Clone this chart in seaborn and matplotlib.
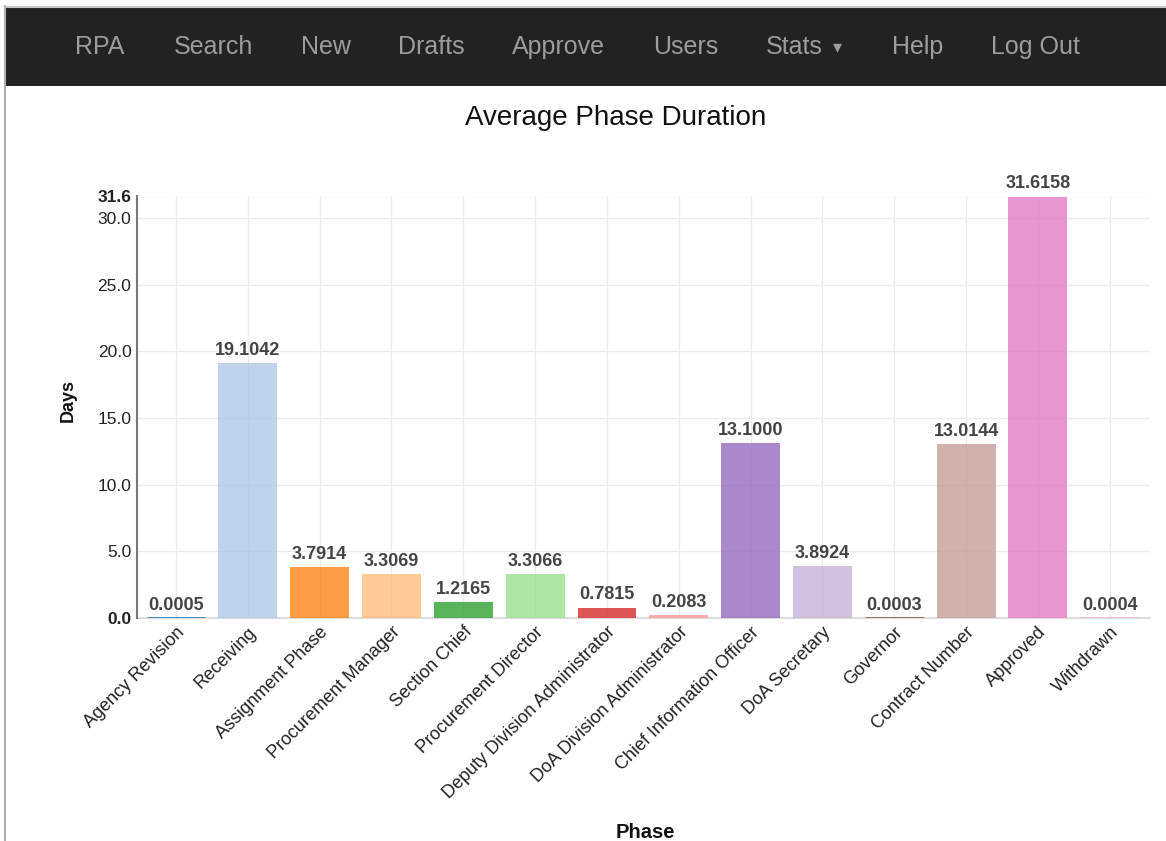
import matplotlib
matplotlib.use("Agg")
import matplotlib.pyplot as plt
import seaborn as sns
import pandas as pd
from matplotlib.patches import Rectangle
from matplotlib.lines import Line2D

phases = ["Agency Revision", "Receiving", "Assignment Phase", "Procurement Manager",
          "Section Chief", "Procurement Director", "Deputy Division Administrator",
          "DoA Division Administrator", "Chief Information Officer", "DoA Secretary",
          "Governor", "Contract Number", "Approved", "Withdrawn"]
days = [0.0005, 19.1042, 3.7914, 3.3069, 1.2165, 3.3066, 0.7815, 0.2083,
        13.1000, 3.8924, 0.0003, 13.0144, 31.6158, 0.0004]
colors = ["#1f77b4", "#aec7e8", "#ff7f0e", "#ffbb78", "#2ca02c", "#98df8a", "#d62728",
          "#ff9896", "#9467bd", "#c5b0d5", "#8c564b", "#c49c94", "#e377c2", "#f7b6d2"]
nav_items = ["RPA", "Search", "New", "Drafts", "Approve", "Users", "Stats", "Help", "Log Out"]
nav_x = [75, 174, 301, 398, 512, 653, 766, 892, 991]
yticks = [0.0, 5.0, 10.0, 15.0, 20.0, 25.0, 30.0]

sns.set_style("white")
plt.rcParams['font.family'] = ['Liberation Sans', 'DejaVu Sans']

W, H = 1166, 841
fig = plt.figure(figsize=(W / 100, H / 100), dpi=100)
fig.patch.set_facecolor("white")

# page frame and navbar
fig.add_artist(Rectangle((5 / W, 1 - 86 / H), 1 - 5 / W, 79 / H, transform=fig.transFigure,
                         facecolor="#222222", edgecolor="none"))
fig.add_artist(Line2D([5 / W, 1], [1 - 6.5 / H, 1 - 6.5 / H], transform=fig.transFigure,
                      color="#c8c8c8", lw=1.5))
fig.add_artist(Line2D([4.5 / W, 4.5 / W], [0, 1 - 6 / H], transform=fig.transFigure,
                      color="#b0b0b0", lw=1.5))
for name, x in zip(nav_items, nav_x):
    fig.text(x / W, 1 - 47 / H, name, color="#9d9d9d", fontsize=18, ha="left", va="center")
fig.text(833 / W, 1 - 47 / H, "\u25BE", color="#9d9d9d", fontsize=13, ha="left", va="center",
         family=["DejaVu Sans"])

ax = fig.add_axes([137 / W, 1 - 618 / H, (1150 - 137) / W, (618 - 196.5) / H])
df = pd.DataFrame({"Phase": phases, "Days": days})
sns.barplot(data=df, x="Phase", y="Days", hue="Phase", palette=colors, legend=False,
            width=0.82, saturation=1, ax=ax, dodge=False)
ymax = max(days)
for p in ax.patches:
    fc = p.get_facecolor()
    p.set_facecolor((fc[0], fc[1], fc[2], 0.78))
    if p.get_height() < ymax * 0.005:
        # very small values: show as a thin line like the reference
        p.set_edgecolor((fc[0], fc[1], fc[2], 0.85))
        p.set_linewidth(2.0)
    else:
        p.set_edgecolor("none")
        p.set_linewidth(0)

ax.set_ylim(0, ymax)
ax.set_xlim(-0.543, 13.56)
ticks = yticks + [ymax]
ax.set_yticks(ticks)
ax.set_yticklabels([f"{t:.1f}" for t in ticks], fontsize=12.5, color="#222222")
for lbl in ax.get_yticklabels():
    if lbl.get_text() in ("0.0", "31.6"):
        lbl.set_fontweight("bold")
ax.set_xticks(range(len(phases)))
ax.set_xticklabels(phases, rotation=45, ha="right", rotation_mode="anchor",
                   fontsize=13, color="#222222")
ax.tick_params(axis="both", length=0, pad=4)
ax.grid(True, color="#ebebeb", lw=1)
ax.set_axisbelow(True)
for s in ["top", "right"]:
    ax.spines[s].set_visible(False)
ax.spines["left"].set_color("#777777")
ax.spines["left"].set_linewidth(1.5)
ax.spines["bottom"].set_color("#dddddd")
ax.spines["bottom"].set_linewidth(1.5)
ax.spines["bottom"].set_zorder(0.6)

for i, v in enumerate(days):
    ax.annotate(f"{v:.4f}", (i, v), xytext=(0, 3), textcoords="offset points",
                ha="center", va="bottom", fontsize=13, fontweight="bold", color="#444444")

ax.set_xlabel("")
ax.set_ylabel("")
fig.text(616 / W, 1 - 118 / H, "Average Phase Duration", fontsize=20, ha="center",
         va="center", color="#111111")
fig.text(68 / W, 1 - 400 / H, "Days", fontsize=13, fontweight="bold", rotation=90,
         ha="center", va="center", color="#111111")
fig.text(645 / W, 1 - 833 / H, "Phase", fontsize=14.5, fontweight="bold", ha="center",
         va="center", color="#111111")

fig.savefig("out.png", dpi=100)
